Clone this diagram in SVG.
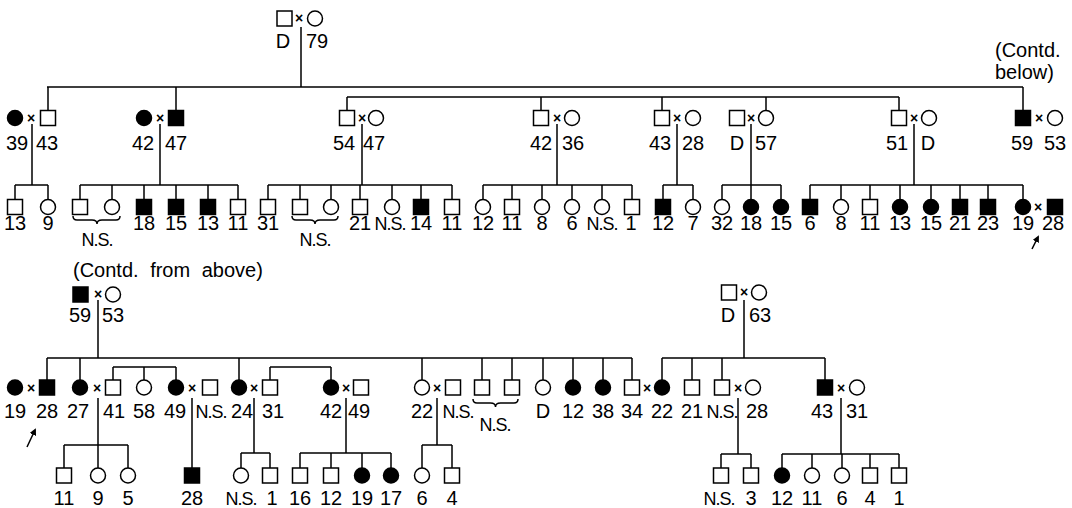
<svg xmlns="http://www.w3.org/2000/svg" xmlns:xlink="http://www.w3.org/1999/xlink" width="1072" height="508" viewBox="0 0 1072 508">
<style>
.o{fill:#fff;stroke:#000;stroke-width:1.5}
.b{fill:#000;stroke:#000;stroke-width:1.5}
.c{fill:none;stroke:#000;stroke-width:1.5}
text{font-family:"Liberation Sans",Arial,sans-serif;font-size:20px;fill:#000;text-anchor:middle}
text.x{font-size:14px;font-weight:bold}
text.s{text-anchor:start}
text.ns{font-size:18px;letter-spacing:-1px}
</style>
<defs>
<rect id="sq" x="-7.5" y="-7.5" width="15" height="15"/>
<circle id="ci" r="7.5"/>
<marker id="ah" markerWidth="7" markerHeight="7" refX="5" refY="3.5" orient="auto" markerUnits="userSpaceOnUse"><path d="M0,0 L7,3.5 L0,7 z" fill="#000"/></marker>
</defs>
<rect width="1072" height="508" fill="#fff"/>
<g id="connectors" class="c">
<path d="M301,27V87M47,87H1023M347,97H899M48,87V110.5M176,87V110.5M1023,87V110.5M347,97V110.5M541,97V110.5M662,97V110.5M766,97V110.5M899,97V110.5"/>
<path d="M32,124V185M160,124V185M362,124V185M557,124V185M677,124V185M751,124V185M914,124V185"/>
<path d="M15,185H48M80,185H238M268,185H452M483,185H632M663,185H693M722,185H781M810,185H1023"/>
<path d="M15,185V199.5M48,185V199.5M80,185V199.5M112,185V199.5M144,185V199.5M176,185V199.5M208,185V199.5M238,185V199.5M268,185V199.5M300,185V199.5M331,185V199.5M360,185V199.5M392,185V199.5M421,185V199.5M452,185V199.5M483,185V199.5M512,185V199.5M542,185V199.5M572,185V199.5M602,185V199.5M632,185V199.5M663,185V199.5M693,185V199.5M722,185V199.5M751,185V199.5M781,185V199.5M810,185V199.5M841,185V199.5M870,185V199.5M900,185V199.5M931,185V199.5M960,185V199.5M988,185V199.5M1023,185V199.5"/>
<path d="M98,300V358M744,300V358M47,358H632M662,358H825"/>
<path d="M47,358V380M80,358V380M239,358V380M422,358V380M482,358V380M512,358V380M543,358V380M573,358V380M603,358V380M632,358V380M662,358V380M692,358V380M722,358V380M825,358V380"/>
<path d="M113,367H176M113,367V380M144,367V380M176,367V380M270,367H331M270,367V380M331,367V380"/>
<path d="M98,398V445M192,398V468M254,398V453M346,398V453M437,398V445M738,398V454M841,398V454"/>
<path d="M64,445H128M64,445V468M98,445V468M128,445V468M241,453H270M241,453V468M270,453V468M300,453H391M300,453V468M331,453V468M362,453V468M391,453V468M422,445H452M422,445V468M452,445V468M721,454H751M721,454V468M751,454V468M782,454H899M782,454V468M812,454V468M842,454V468M870,454V468M899,454V468"/>
<path d="M73,216q0,4 4,4h15q5,0 5,4q0,-4 5,-4h14q4,0 4,-4M292,216q0,4 4,4h14q5,0 5,4q0,-4 5,-4h14q4,0 4,-4M473,399q0,4 4,4h13.5q5,0 5,4q0,-4 5,-4h13.5q4,0 4,-4"/>
<path d="M1032,249L1038,237" marker-end="url(#ah)"/>
<path d="M27,447L35,430" marker-end="url(#ah)"/>
</g>
<g id="gen1">
<use xlink:href="#sq" class="o" x="284.5" y="18.5"/><text class="x" x="299" y="23">×</text><use xlink:href="#ci" class="o" x="315" y="18.5"/>
<text x="283" y="48">D</text><text x="317" y="48">79</text>
</g>
<g id="gen2-top">
<g id="f39"><use xlink:href="#ci" class="b" x="15" y="118"/><text class="x" x="31" y="123">×</text><use xlink:href="#sq" class="o" x="48" y="118"/><text x="17" y="150">39</text><text x="47" y="150">43</text></g>
<g id="f42"><use xlink:href="#ci" class="b" x="144" y="118"/><text class="x" x="160" y="123">×</text><use xlink:href="#sq" class="b" x="176" y="118"/><text x="143" y="150">42</text><text x="176" y="150">47</text></g>
<g id="f54"><use xlink:href="#sq" class="o" x="347" y="118"/><text class="x" x="362" y="123">×</text><use xlink:href="#ci" class="o" x="376" y="118"/><text x="344" y="150">54</text><text x="374" y="150">47</text></g>
<g id="f42b"><use xlink:href="#sq" class="o" x="541" y="118"/><text class="x" x="557" y="123">×</text><use xlink:href="#ci" class="o" x="572" y="118"/><text x="541" y="150">42</text><text x="573" y="150">36</text></g>
<g id="f43"><use xlink:href="#sq" class="o" x="662" y="118"/><text class="x" x="677" y="123">×</text><use xlink:href="#ci" class="o" x="693" y="118"/><text x="660" y="150">43</text><text x="693" y="150">28</text></g>
<g id="fD57"><use xlink:href="#sq" class="o" x="737" y="118"/><text class="x" x="751" y="123">×</text><use xlink:href="#ci" class="o" x="766" y="118"/><text x="737" y="150">D</text><text x="766" y="150">57</text></g>
<g id="f51"><use xlink:href="#sq" class="o" x="899" y="118"/><text class="x" x="914" y="123">×</text><use xlink:href="#ci" class="o" x="929" y="118"/><text x="897" y="150">51</text><text x="928" y="150">D</text></g>
<g id="f59"><use xlink:href="#sq" class="b" x="1023" y="118"/><text class="x" x="1039" y="123">×</text><use xlink:href="#ci" class="o" x="1055" y="118"/><text x="1022" y="150">59</text><text x="1055" y="150">53</text></g>
<text class="s" x="995" y="57">(Contd.</text><text class="s" x="995" y="79">below)</text>
</g>
<g id="gen3-top">
<use xlink:href="#sq" class="o" x="15" y="207"/><use xlink:href="#ci" class="o" x="48" y="207"/>
<use xlink:href="#sq" class="o" x="80" y="207"/><use xlink:href="#ci" class="o" x="112" y="207"/><use xlink:href="#sq" class="b" x="144" y="207"/><use xlink:href="#sq" class="b" x="176" y="207"/><use xlink:href="#sq" class="b" x="208" y="207"/><use xlink:href="#sq" class="o" x="238" y="207"/>
<use xlink:href="#sq" class="o" x="268" y="207"/><use xlink:href="#sq" class="o" x="300" y="207"/><use xlink:href="#ci" class="o" x="331" y="207"/><use xlink:href="#sq" class="o" x="360" y="207"/><use xlink:href="#ci" class="o" x="392" y="207"/><use xlink:href="#sq" class="b" x="421" y="207"/><use xlink:href="#sq" class="o" x="452" y="207"/>
<use xlink:href="#ci" class="o" x="483" y="207"/><use xlink:href="#sq" class="o" x="512" y="207"/><use xlink:href="#ci" class="o" x="542" y="207"/><use xlink:href="#ci" class="o" x="572" y="207"/><use xlink:href="#ci" class="o" x="602" y="207"/><use xlink:href="#sq" class="o" x="632" y="207"/>
<use xlink:href="#sq" class="b" x="663" y="207"/><use xlink:href="#ci" class="o" x="693" y="207"/>
<use xlink:href="#ci" class="o" x="722" y="207"/><use xlink:href="#ci" class="b" x="751" y="207"/><use xlink:href="#ci" class="b" x="781" y="207"/>
<use xlink:href="#sq" class="b" x="810" y="207"/><use xlink:href="#ci" class="o" x="841" y="207"/><use xlink:href="#sq" class="o" x="870" y="207"/><use xlink:href="#ci" class="b" x="900" y="207"/><use xlink:href="#ci" class="b" x="931" y="207"/><use xlink:href="#sq" class="b" x="960" y="207"/><use xlink:href="#sq" class="b" x="988" y="207"/><use xlink:href="#ci" class="b" x="1023" y="207"/><text class="x" x="1038" y="212">×</text><use xlink:href="#sq" class="b" x="1055" y="207"/>
<text x="15" y="230">13</text><text x="48" y="230">9</text>
<text class="ns" x="97" y="246">N.S.</text>
<text x="144" y="230">18</text><text x="176" y="230">15</text><text x="208" y="230">13</text><text x="238" y="230">11</text>
<text x="268" y="230">31</text><text class="ns" x="315" y="246">N.S.</text><text x="360" y="230">21</text><text class="ns" x="390" y="230">N.S.</text><text x="421" y="230">14</text><text x="452" y="230">11</text>
<text x="483" y="230">12</text><text x="512" y="230">11</text><text x="542" y="230">8</text><text x="572" y="230">6</text><text class="ns" x="602" y="230">N.S.</text><text x="631" y="230">1</text>
<text x="663" y="230">12</text><text x="693" y="230">7</text>
<text x="722" y="230">32</text><text x="751" y="230">18</text><text x="781" y="230">15</text>
<text x="810" y="230">6</text><text x="841" y="230">8</text><text x="870" y="230">11</text><text x="900" y="230">13</text><text x="931" y="230">15</text><text x="960" y="230">21</text><text x="988" y="230">23</text><text x="1023" y="230">19</text><text x="1053" y="230">28</text>
</g>
<g id="gen1-bottom">
<text class="s" x="73" y="277" style="word-spacing:6px">(Contd. from above)</text>
<use xlink:href="#sq" class="b" x="80.5" y="294.5"/><text class="x" x="98" y="299">×</text><use xlink:href="#ci" class="o" x="113" y="294.5"/>
<text x="80" y="322">59</text><text x="113" y="322">53</text>
<use xlink:href="#sq" class="o" x="729" y="292.5"/><text class="x" x="744" y="297">×</text><use xlink:href="#ci" class="o" x="759" y="292.5"/>
<text x="728" y="322">D</text><text x="760" y="322">63</text>
</g>
<g id="gen2-bottom">
<use xlink:href="#ci" class="b" x="15" y="387.5"/><text class="x" x="31" y="392.5">×</text><use xlink:href="#sq" class="b" x="47" y="387.5"/>
<use xlink:href="#ci" class="b" x="80" y="387.5"/><text class="x" x="97" y="392.5">×</text><use xlink:href="#sq" class="o" x="113" y="387.5"/>
<use xlink:href="#ci" class="o" x="144" y="387.5"/><use xlink:href="#ci" class="b" x="176" y="387.5"/><text class="x" x="192" y="392.5">×</text><use xlink:href="#sq" class="o" x="210" y="387.5"/>
<use xlink:href="#ci" class="b" x="239" y="387.5"/><text class="x" x="254" y="392.5">×</text><use xlink:href="#sq" class="o" x="270" y="387.5"/>
<use xlink:href="#ci" class="b" x="331" y="387.5"/><text class="x" x="346" y="392.5">×</text><use xlink:href="#sq" class="o" x="361" y="387.5"/>
<use xlink:href="#ci" class="o" x="422" y="387.5"/><text class="x" x="437" y="392.5">×</text><use xlink:href="#sq" class="o" x="453" y="387.5"/>
<use xlink:href="#sq" class="o" x="482" y="387.5"/><use xlink:href="#sq" class="o" x="512" y="387.5"/>
<use xlink:href="#ci" class="o" x="543" y="387.5"/><use xlink:href="#ci" class="b" x="573" y="387.5"/><use xlink:href="#ci" class="b" x="603" y="387.5"/><use xlink:href="#sq" class="o" x="632" y="387.5"/><text class="x" x="647" y="392.5">×</text>
<use xlink:href="#ci" class="b" x="662" y="387.5"/><use xlink:href="#sq" class="o" x="692" y="387.5"/><use xlink:href="#sq" class="o" x="722" y="387.5"/><text class="x" x="738" y="392.5">×</text><use xlink:href="#ci" class="o" x="753" y="387.5"/>
<use xlink:href="#sq" class="b" x="825" y="387.5"/><text class="x" x="841" y="392.5">×</text><use xlink:href="#ci" class="o" x="857" y="387.5"/>
<text x="15" y="418">19</text><text x="47" y="418">28</text><text x="78" y="418">27</text><text x="114" y="418">41</text><text x="144" y="418">58</text><text x="175" y="418">49</text><text class="ns" x="211" y="418">N.S.</text><text x="242" y="418">24</text><text x="273" y="418">31</text>
<text x="331" y="418">42</text><text x="359" y="418">49</text><text x="422" y="418">22</text><text class="ns" x="458" y="418">N.S.</text><text class="ns" x="495" y="431">N.S.</text>
<text x="543" y="418">D</text><text x="573" y="418">12</text><text x="603" y="418">38</text><text x="632" y="418">34</text><text x="662" y="418">22</text><text x="692" y="418">21</text><text class="ns" x="722" y="418">N.S.</text><text x="757" y="418">28</text><text x="822" y="418">43</text><text x="857" y="418">31</text>
</g>
<g id="gen3-bottom">
<use xlink:href="#sq" class="o" x="64" y="475.5"/><use xlink:href="#ci" class="o" x="98" y="475.5"/><use xlink:href="#ci" class="o" x="128" y="475.5"/>
<use xlink:href="#sq" class="b" x="192" y="475.5"/>
<use xlink:href="#ci" class="o" x="241" y="475.5"/><use xlink:href="#sq" class="o" x="270" y="475.5"/>
<use xlink:href="#sq" class="o" x="300" y="475.5"/><use xlink:href="#sq" class="o" x="331" y="475.5"/><use xlink:href="#ci" class="b" x="362" y="475.5"/><use xlink:href="#ci" class="b" x="391" y="475.5"/>
<use xlink:href="#ci" class="o" x="422" y="475.5"/><use xlink:href="#sq" class="o" x="452" y="475.5"/>
<use xlink:href="#sq" class="o" x="721" y="475.5"/><use xlink:href="#sq" class="o" x="751" y="475.5"/>
<use xlink:href="#ci" class="b" x="782" y="475.5"/><use xlink:href="#ci" class="o" x="812" y="475.5"/><use xlink:href="#ci" class="o" x="842" y="475.5"/><use xlink:href="#sq" class="o" x="870" y="475.5"/><use xlink:href="#sq" class="o" x="899" y="475.5"/>
<text x="64" y="505">11</text><text x="98" y="505">9</text><text x="128" y="505">5</text><text x="192" y="505">28</text><text class="ns" x="241" y="505">N.S.</text><text x="272" y="505">1</text>
<text x="300" y="505">16</text><text x="331" y="505">12</text><text x="362" y="505">19</text><text x="391" y="505">17</text><text x="422" y="505">6</text><text x="452" y="505">4</text>
<text class="ns" x="719" y="505">N.S.</text><text x="751" y="505">3</text><text x="782" y="505">12</text><text x="812" y="505">11</text><text x="842" y="505">6</text><text x="870" y="505">4</text><text x="899" y="505">1</text>
</g>
</svg>
